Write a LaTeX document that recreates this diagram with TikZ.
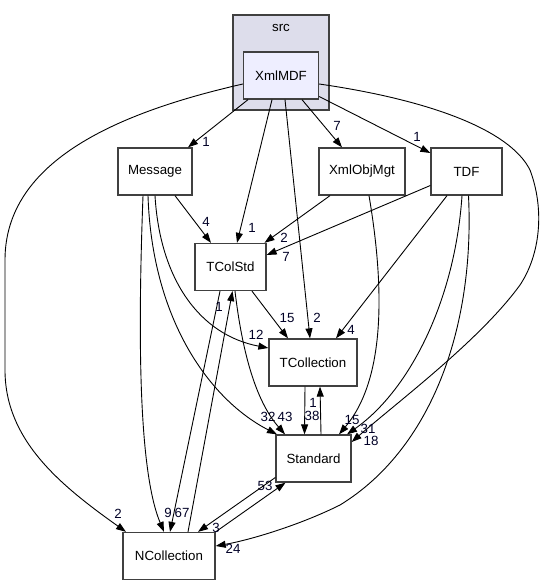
\documentclass[tikz,border=0pt]{standalone}
\usepackage{fontspec}
\setmainfont{Liberation Sans}
\usetikzlibrary{arrows.meta}
\definecolor{bordergray}{RGB}{64,64,64}
\definecolor{clusterfill}{RGB}{221,221,235}
\definecolor{dirfill}{RGB}{238,238,255}
\tikzset{
  dirbox/.style={draw=bordergray, line width=1.3pt, fill=white, inner sep=0pt,
    font=\fontsize{13.3}{15}\selectfont},
  dep/.style={draw=black, line width=0.9pt, -{Triangle[length=10pt,width=7pt]}},
  lbl/.style={font=\fontsize{13.3}{15}\selectfont, inner sep=0pt, text=black!85!blue},
}
\begin{document}
\begin{tikzpicture}[x=1pt,y=-1pt]
\useasboundingbox (0,0) rectangle (543,585);
% cluster
\node[draw=bordergray, line width=1.3pt, fill=clusterfill, minimum width=96pt, minimum height=95pt, inner sep=0pt] (src) at (281,62.5) {};
\node[font=\fontsize{13.3}{15}\selectfont, inner sep=0pt] (srclbl) at (281,28) {src};
% nodes
\node[dirbox, fill=dirfill, minimum width=75pt, minimum height=47pt] (XmlMDF) at (281,75.5) {XmlMDF};
\node[dirbox, minimum width=74pt, minimum height=47pt] (Message) at (155,171.5) {Message};
\node[dirbox, minimum width=86pt, minimum height=47pt] (XmlObjMgt) at (362,171.5) {XmlObjMgt};
\node[dirbox, minimum width=71pt, minimum height=47pt] (TDF) at (466.5,171.5) {TDF};
\node[dirbox, minimum width=71pt, minimum height=47pt] (TColStd) at (230.5,267) {TColStd};
\node[dirbox, minimum width=88pt, minimum height=47pt] (TCollection) at (313,362.5) {TCollection};
\node[dirbox, minimum width=75pt, minimum height=47pt] (Standard) at (313.5,458.5) {Standard};
\node[dirbox, minimum width=92pt, minimum height=47pt] (NCollection) at (169,556) {NCollection};

% edges
\draw[dep] ([xshift=-33pt]XmlMDF.south) -- ([xshift=33pt]Message.north);
\node[lbl] (l1) at (206,142) {1};
\draw[dep] ([xshift=-9pt]XmlMDF.south) -- ([xshift=6.5pt]TColStd.north);
\node[lbl] (l2) at (252,228) {1};
\draw[dep] ([xshift=4pt]XmlMDF.south) -- ([xshift=-3pt]TCollection.north);
\node[lbl] (l3) at (317,318) {2};
\draw[dep] ([xshift=21pt]XmlMDF.south) -- ([xshift=-20pt]XmlObjMgt.north);
\node[lbl] (l4) at (337,126) {7};
\draw[dep] ([yshift=-21pt]XmlMDF.east) -- ([yshift=18.5pt]TDF.west);
\node[lbl] (l5) at (417,137) {1};
\draw[dep] ([yshift=-8.5pt]XmlMDF.west) .. controls (120,112) and (5,160) .. (5,260) -- (5,370) .. controls (5,440) and (60,485) .. ([xshift=-43pt]NCollection.north);
\node[lbl] (l6) at (118,514) {2};
\draw[dep] ([yshift=-8.5pt]XmlMDF.east) .. controls (430,100) and (510,130) .. (530,170) .. controls (545,210) and (540,255) .. (520,285) .. controls (480,340) and (400,400) .. ([yshift=16.5pt]Standard.east);
\node[lbl] (l7) at (371,441) {18};
\draw[dep] ([xshift=20pt]Message.south) -- ([xshift=-19.5pt]TColStd.north);
\node[lbl] (l8) at (206,222) {4};
\draw[dep] (Message.south) .. controls (160,280) and (200,335) .. ([yshift=14.5pt]TCollection.west);
\node[lbl] (l9) at (256,335) {12};
\draw[dep] ([xshift=-7pt]Message.south) .. controls (152,320) and (210,400) .. ([xshift=-36.5pt]Standard.north);
\node[lbl] (l10) at (268,417) {32};
\draw[dep] ([xshift=-12pt]Message.south) .. controls (138,330) and (138,470) .. ([xshift=-5pt]NCollection.north);
\node[lbl] (l11) at (168,513) {9};
\draw[dep] ([xshift=-10.5pt]TColStd.south) -- ([xshift=1pt]NCollection.north);
\node[lbl] (l12) at (182,513) {67};
\draw[dep] ([xshift=19pt]NCollection.north) -- ([xshift=2pt]TColStd.south);
\node[lbl] (l13) at (219,307) {1};
\draw[dep] ([xshift=4.5pt]TColStd.south) .. controls (242,350) and (255,400) .. ([xshift=-28.5pt]Standard.north);
\node[lbl] (l14) at (285,417) {43};
\draw[dep] ([xshift=21.5pt]TColStd.south) -- ([xshift=-25pt]TCollection.north);
\node[lbl] (l15) at (287,318) {15};
\draw[dep] ([xshift=-32pt]XmlObjMgt.south) -- ([xshift=34pt]TColStd.north);
\node[lbl] (l16) at (284,238) {2};
\draw[dep] ([yshift=-14pt]TDF.west) -- ([yshift=12pt]TColStd.east);
\node[lbl] (l17) at (286,257) {7};
\draw[dep] ([xshift=-19.5pt]TDF.south) -- ([xshift=23pt]TCollection.north);
\node[lbl] (l18) at (351,330) {4};
\draw[dep] ([xshift=-4.5pt]TDF.south) .. controls (455,300) and (410,390) .. ([xshift=33.5pt]Standard.north);
\node[lbl] (l19) at (368,429) {31};
\draw[dep] ([xshift=7pt]XmlObjMgt.south) .. controls (385,290) and (385,380) .. ([xshift=25.5pt]Standard.north);
\node[lbl] (l20) at (352,420) {15};
\draw[dep] ([xshift=2pt]TDF.south) .. controls (475,330) and (430,450) .. (340,505) .. controls (300,525) and (250,540) .. ([yshift=10pt]NCollection.east);
\node[lbl] (l21) at (233,549) {24};
\draw[dep] ([xshift=-8pt]TCollection.south) -- ([xshift=-9pt]Standard.north);
\node[lbl] (l22) at (312,416) {38};
\draw[dep] ([xshift=7.5pt]Standard.north) -- ([xshift=7pt]TCollection.south);
\node[lbl] (l23) at (313,403) {1};
\draw[dep] (NCollection.north east) -- ([xshift=-28pt]Standard.south);
\node[lbl] (l24) at (265,486) {53};
\draw[dep] ([yshift=-19pt]Standard.west) -- ([xshift=29pt]NCollection.north);
\node[lbl] (l25) at (216,528) {3};
\end{tikzpicture}
\end{document}
